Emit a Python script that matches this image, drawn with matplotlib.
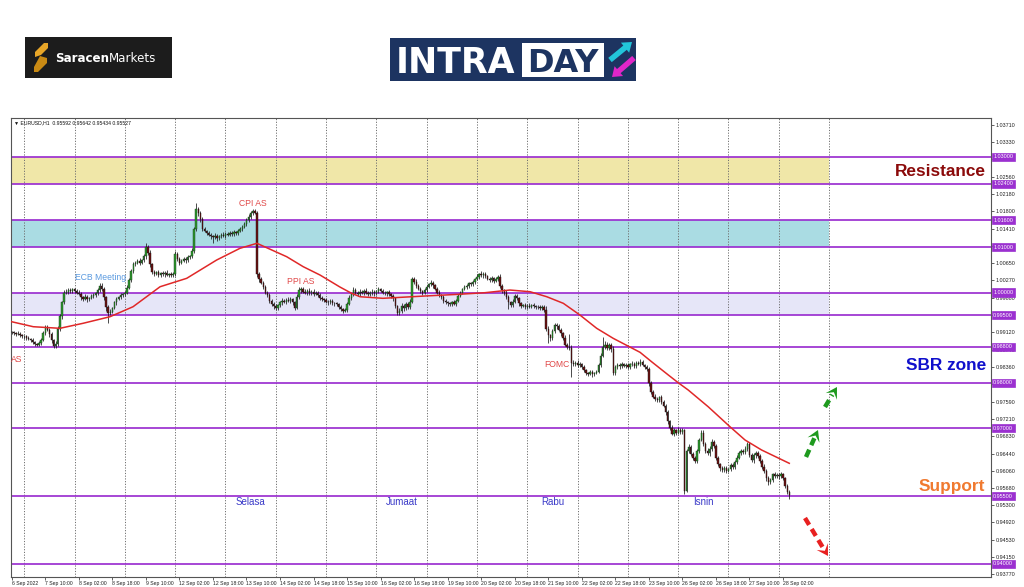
import matplotlib
matplotlib.use("Agg")
import matplotlib.pyplot as plt
from matplotlib.patches import Rectangle, Polygon, FancyArrow
from matplotlib.transforms import blended_transform_factory
import numpy as np

# ---------------- data (EURUSD H1, prices in pips above 0.9500) ----------------
BASE = 0.9500
PIP = 0.0001
first_open = 413
close_pips = [
    412, 410, 408, 409, 405, 403, 404, 400, 397, 395,
    390, 386, 385, 388, 396, 410, 424, 418, 408, 394,
    381, 386, 420, 448, 478, 500, 502, 506, 503, 507,
    504, 500, 497, 489, 486, 490, 485, 488, 492, 494,
    498, 505, 515, 508, 490, 468, 455, 458, 466, 478,
    486, 490, 494, 497, 500, 510, 528, 548, 562, 566,
    570, 565, 572, 580, 600, 588, 562, 546, 541, 545,
    538, 543, 540, 544, 539, 541, 538, 542, 585, 575,
    566, 570, 575, 571, 578, 580, 592, 640, 685, 676,
    662, 641, 636, 632, 628, 625, 622, 626, 620, 624,
    628, 625, 630, 628, 632, 630, 634, 631, 636, 640,
    645, 652, 660, 668, 675, 680, 676, 540, 530, 522,
    512, 500, 495, 482, 475, 470, 466, 472, 478, 482,
    480, 484, 481, 485, 478, 466, 490, 505, 508, 502,
    500, 504, 498, 502, 497, 500, 495, 488, 485, 483,
    480, 478, 481, 477, 476, 474, 468, 463, 460, 462,
    475, 488, 496, 505, 500, 497, 502, 499, 504, 500,
    496, 499, 502, 498, 503, 507, 504, 500, 498, 501,
    497, 492, 487, 470, 455, 460, 470, 465, 475, 468,
    480, 530, 524, 515, 508, 503, 500, 505, 512, 518,
    522, 516, 508, 500, 494, 490, 482, 478, 476, 474,
    478, 475, 482, 492, 500, 508, 512, 515, 520, 518,
    523, 530, 535, 540, 538, 542, 536, 530, 528, 532,
    526, 530, 535, 515, 505, 500, 490, 478, 472, 480,
    492, 488, 476, 470, 472, 468, 471, 469, 472, 470,
    467, 469, 466, 468, 462, 420, 405, 400, 415, 428,
    425, 418, 410, 400, 385, 380, 378, 345, 342, 345,
    340, 342, 335, 328, 322, 320, 324, 319, 322, 325,
    340, 360, 380, 385, 378, 383, 375, 322, 335, 340,
    337, 342, 338, 340, 336, 341, 343, 338, 345, 342,
    347, 340, 335, 330, 300, 280, 270, 265, 262, 268,
    258, 250, 235, 215, 200, 188, 195, 190, 197, 192,
    195, 62, 150, 158, 142, 135, 128, 150, 175, 190,
    165, 150, 145, 155, 170, 160, 135, 120, 112, 108,
    112, 106, 110, 118, 115, 125, 135, 145, 150, 148,
    155, 165, 140, 130, 140, 145, 138, 128, 115, 105,
    90, 80, 85, 98, 95, 97, 94, 98, 90, 72,
    59.2, 52.7,
]
wick_up = [
    3, 4, 2, 5, 3, 4, 2, 3, 4, 3,
    4, 3, 2, 5, 4, 6, 4, 5, 3, 4,
    3, 6, 5, 4, 3, 5, 6, 4, 5, 3,
    4, 3, 5, 4, 3, 6, 4, 3, 5, 4,
    3, 4, 6, 5, 4, 3, 4, 5, 3, 4,
    4, 3, 5, 3, 4, 6, 5, 4, 5, 3,
    4, 6, 3, 5, 9, 4, 5, 3, 4, 3,
    4, 3, 4, 3, 5, 3, 4, 3, 6, 5,
    4, 5, 3, 4, 5, 4, 6, 5, 12, 5,
    4, 5, 4, 3, 5, 4, 3, 5, 4, 3,
    4, 5, 3, 4, 3, 5, 4, 3, 4, 5,
    4, 5, 4, 6, 5, 4, 5, 4, 6, 5,
    4, 5, 3, 4, 3, 4, 5, 3, 4, 5,
    4, 3, 5, 4, 3, 4, 6, 7, 5, 4,
    5, 4, 6, 3, 5, 4, 3, 5, 4, 3,
    4, 3, 5, 4, 3, 4, 3, 4, 3, 4,
    5, 6, 4, 8, 5, 4, 5, 3, 4, 6,
    3, 4, 5, 4, 3, 5, 4, 3, 4, 3,
    4, 3, 5, 4, 3, 5, 6, 4, 5, 4,
    5, 5, 4, 5, 3, 4, 3, 5, 4, 4,
    5, 4, 3, 4, 5, 3, 4, 3, 4, 3,
    4, 5, 3, 5, 4, 3, 5, 4, 3, 4,
    4, 3, 5, 4, 8, 3, 4, 3, 5, 4,
    3, 5, 4, 5, 4, 3, 5, 4, 3, 5,
    4, 5, 3, 4, 3, 4, 3, 5, 3, 4,
    3, 4, 3, 4, 5, 8, 6, 4, 5, 5,
    4, 5, 4, 3, 5, 4, 28, 5, 6, 4,
    5, 4, 3, 5, 4, 3, 4, 5, 3, 4,
    5, 6, 22, 8, 5, 6, 5, 6, 4, 5,
    4, 5, 3, 4, 5, 4, 5, 3, 4, 3,
    5, 4, 3, 5, 6, 5, 4, 5, 3, 4,
    5, 4, 3, 5, 4, 6, 5, 4, 5, 4,
    5, 4, 5, 6, 4, 5, 4, 5, 4, 6,
    5, 4, 6, 5, 6, 4, 5, 3, 4, 5,
    4, 5, 3, 4, 5, 4, 6, 5, 4, 5,
    6, 5, 4, 5, 6, 4, 5, 4, 3, 5,
    4, 5, 6, 4, 5, 3, 4, 5, 4, 3,
    4, 5,
]
wick_dn = [
    4, 3, 5, 3, 4, 3, 5, 4, 3, 4,
    3, 5, 4, 3, 4, 3, 5, 4, 6, 5,
    4, 3, 5, 4, 6, 3, 4, 5, 4, 3,
    5, 4, 3, 5, 4, 3, 5, 4, 3, 4,
    4, 3, 4, 5, 6, 8, 23, 5, 4, 3,
    5, 3, 4, 3, 5, 4, 3, 5, 4, 3,
    4, 5, 3, 4, 5, 4, 6, 5, 4, 3,
    3, 4, 3, 5, 3, 4, 3, 4, 5, 6,
    5, 4, 3, 5, 4, 3, 4, 5, 3, 6,
    5, 4, 3, 5, 4, 6, 12, 4, 5, 3,
    4, 3, 5, 4, 3, 4, 5, 3, 4, 3,
    4, 3, 4, 3, 5, 4, 3, 5, 6, 4,
    5, 4, 6, 5, 4, 6, 5, 4, 3, 5,
    4, 5, 3, 4, 6, 4, 3, 4, 5, 4,
    4, 5, 3, 4, 5, 3, 4, 5, 4, 3,
    4, 5, 3, 4, 5, 4, 5, 4, 6, 4,
    4, 3, 5, 4, 3, 4, 5, 3, 4, 3,
    4, 3, 4, 5, 3, 4, 3, 4, 3, 5,
    4, 5, 6, 5, 5, 4, 6, 5, 4, 5,
    4, 3, 5, 4, 3, 4, 5, 3, 4, 3,
    4, 5, 3, 4, 5, 4, 6, 4, 5, 3,
    4, 3, 5, 4, 3, 4, 3, 5, 4, 3,
    3, 4, 3, 4, 3, 5, 4, 3, 5, 4,
    4, 3, 5, 4, 5, 6, 4, 14, 5, 4,
    4, 5, 6, 4, 3, 5, 4, 3, 4, 5,
    4, 3, 5, 4, 5, 6, 17, 8, 5, 4,
    5, 4, 6, 5, 4, 5, 6, 31, 5, 4,
    4, 5, 4, 3, 5, 4, 3, 5, 4, 3,
    4, 5, 3, 4, 5, 4, 6, 4, 5, 4,
    5, 4, 3, 4, 5, 4, 3, 5, 4, 3,
    4, 3, 5, 4, 6, 5, 4, 5, 4, 3,
    5, 4, 6, 5, 4, 3, 5, 4, 3, 4,
    5, 7, 4, 5, 4, 6, 5, 4, 5, 4,
    4, 5, 4, 6, 5, 4, 5, 4, 6, 5,
    4, 5, 3, 4, 5, 6, 4, 3, 5, 4,
    4, 5, 3, 4, 6, 5, 4, 6, 5, 4,
    6, 5, 4, 3, 5, 4, 6, 3, 4, 5,
    4, 9.3,
]

# red moving average (bar index, price)
ma_bars = [0, 10.3, 23, 34, 46.9, 57.9, 70.8, 83.5, 97.8, 108.9, 117, 131.2,
           139.1, 147.1, 156.6, 162.2, 166.2, 177.1, 197.2, 213.1, 225.8,
           237.7, 247.3, 255.3, 263.2, 271.1, 279.1, 287, 299.8, 305.3,
           313.3, 318, 322.8, 332.3, 342.7, 349.9, 357.8, 371]
ma_vals = [0.99354, 0.99244, 0.99209, 0.99319, 0.99465, 0.99686, 1.00128,
           1.00314, 1.00719, 1.00977, 1.01088, 1.00792, 1.00571, 1.00387,
           1.00122, 0.99982, 0.99907, 0.99872, 0.99923, 0.99960, 0.99996,
           1.00055, 1.00018, 0.99907, 0.99761, 0.99503, 0.99209, 0.98987,
           0.98678, 0.98470, 0.98176, 0.98006, 0.97844, 0.97475, 0.97033,
           0.96739, 0.96518, 0.96224]

levels = [1.0300, 1.0240, 1.0160, 1.0100, 1.0000, 0.9950, 0.9880,
          0.9800, 0.9700, 0.9550, 0.9400]
zone_lo = [1.0240, 1.0100, 0.9950]
zone_hi = [1.0300, 1.0160, 1.0000]
zone_end_bar = 390

yticks = [1.03710, 1.03330, 1.02950, 1.02560, 1.02180, 1.01800, 1.01410,
          1.01030, 1.00650, 1.00270, 0.99880, 0.99500, 0.99120, 0.98740,
          0.98360, 0.97980, 0.97590, 0.97210, 0.96830, 0.96440, 0.96060,
          0.95680, 0.95300, 0.94920, 0.94530, 0.94150, 0.93770]
# scale labels that sit fully under a level price box in the reference
hidden_ticks = [1.01030, 0.99500, 0.97980]
xtick_labels = ["6 Sep 2022", "7 Sep 10:00", "8 Sep 02:00", "8 Sep 18:00",
                "9 Sep 10:00", "12 Sep 02:00", "12 Sep 18:00", "13 Sep 10:00",
                "14 Sep 02:00", "14 Sep 18:00", "15 Sep 10:00", "16 Sep 02:00",
                "16 Sep 18:00", "19 Sep 10:00", "20 Sep 02:00", "20 Sep 18:00",
                "21 Sep 10:00", "22 Sep 02:00", "22 Sep 18:00", "23 Sep 10:00",
                "26 Sep 02:00", "26 Sep 18:00", "27 Sep 10:00", "28 Sep 02:00"]
xtick_bars = [16 * k for k in range(len(xtick_labels))]
day_sep_bars = [6 + 24 * k for k in range(17)]
header = "\u25BC EURUSD,H1  0.95592 0.95642 0.95434 0.95527"

# ---------------- figure ----------------
W, H, DPI = 1024, 587, 100
fig = plt.figure(figsize=(W / DPI, H / DPI), dpi=DPI)
fig.patch.set_facecolor("white")

L_, R_, T_, B_ = 11, 990.7, 118.3, 576.7
ax = fig.add_axes([L_ / W, 1 - B_ / H, (R_ - L_) / W, (B_ - T_) / H])
ax.set_xlim(-0.33, 467.1)
ax.set_ylim(0.93717, 1.03852)

PURPLE = "#9B30D0"
TXTFONT = ["Liberation Sans", "DejaVu Sans"]

# zones
zone_cols = ["#F0E7A8", "#AADCE3", "#E6E6F8"]
for lo, hi, col in zip(zone_lo, zone_hi, zone_cols):
    ax.add_patch(Rectangle((-0.33, lo), zone_end_bar + 0.33, hi - lo,
                           facecolor=col, edgecolor="none", zorder=1))

# day separators
ax.vlines(day_sep_bars, 0.93717, 1.03852, colors="#6f6f6f", lw=0.7,
          linestyles=(0, (1.2, 1.6)), zorder=1.5)

# level lines
for lv in levels:
    ax.axhline(lv, color=PURPLE, lw=1.25, zorder=2)

# candles
C = BASE + np.array(close_pips, dtype=float) * PIP
O = np.concatenate([[BASE + first_open * PIP], C[:-1]])
Hh = np.maximum(O, C) + np.array(wick_up, dtype=float) * PIP
Ll = np.minimum(O, C) - np.array(wick_dn, dtype=float) * PIP
idx = np.arange(len(C))
up = C >= O
ax.vlines(idx, Ll, Hh, colors="#1a1a1a", lw=0.55, zorder=3)
body = np.maximum(np.abs(C - O), 0.00004)
ax.bar(idx[up], body[up], bottom=np.minimum(O, C)[up], width=0.65,
       color="#2F9A2F", edgecolor="#123312", lw=0.3, zorder=4)
ax.bar(idx[~up], body[~up], bottom=np.minimum(O, C)[~up], width=0.65,
       color="#6E1212", edgecolor="#111111", lw=0.3, zorder=4)

# moving average
ax.plot(ma_bars, ma_vals, color="#E02828", lw=1.1, zorder=5)

# axes styling
for s in ax.spines.values():
    s.set_color("#555555")
    s.set_linewidth(0.8)
ax.yaxis.tick_right()
ax.set_yticks(yticks)
ax.set_yticklabels(["" if v in hidden_ticks else f"{v:.5f}" for v in yticks],
                   fontfamily=TXTFONT)
ax.tick_params(axis="y", labelsize=3.9, length=2, pad=1.5, colors="#222222",
               width=0.5)
ax.set_xticks(xtick_bars)
ax.set_xticklabels(xtick_labels, ha="left", fontfamily=TXTFONT)
ax.tick_params(axis="x", labelsize=3.7, length=2, pad=1.2, colors="#222222",
               width=0.5)

# level price boxes on the right scale
trans = blended_transform_factory(ax.transAxes, ax.transData)
for lv in levels:
    ax.text(1.0025, lv, f"{lv:.5f}", transform=trans, fontsize=3.9,
            fontfamily=TXTFONT, color="white", va="center", ha="left",
            bbox=dict(boxstyle="square,pad=0.3", fc=PURPLE, ec=PURPLE, lw=0.5),
            zorder=10, clip_on=False)

# ---------------- overlay in pixel coordinates ----------------
ov = fig.add_axes([0, 0, 1, 1], zorder=10)
ov.set_xlim(0, W)
ov.set_ylim(H, 0)
ov.axis("off")
ov.patch.set_visible(False)

ov.text(13.5, 123, header, fontsize=3.7, fontfamily=TXTFONT, color="#111111",
        va="center", ha="left")

# event labels
ov.text(75, 278, "ECB Meeting", fontsize=6.2, fontfamily=TXTFONT,
        color="#5A9AE0", va="center", ha="left")
for txt, x, y in [("CPI AS", 239, 203), ("PPI AS", 287, 282),
                  ("FOMC", 544, 364.5), ("AS", 10.5, 360)]:
    ov.text(x, y, txt, fontsize=6.2, fontfamily=TXTFONT, color="#E04848",
            va="center", ha="left")

# day labels
for txt, x in zip(["Selasa", "Jumaat", "Rabu", "Isnin"], [236, 386, 541, 693]):
    ov.text(x, 502, txt, fontsize=7, fontfamily=TXTFONT, color="#3A3AC8",
            va="center", ha="left")

# zone titles
ov.text(986, 171, "Resistance", fontsize=12.4, fontweight="bold",
        fontfamily=TXTFONT, color="#8B0A0A", va="center", ha="right")
ov.text(986, 366, "SBR zone", fontsize=12.4, fontweight="bold",
        fontfamily=TXTFONT, color="#1010CC", va="center", ha="right")
ov.text(985, 486, "Support", fontsize=12.4, fontweight="bold",
        fontfamily=TXTFONT, color="#F07A30", va="center", ha="right")


def dashed_arrow(x0, y0, x1, y1, color):
    d = np.array([x1 - x0, y1 - y0], dtype=float)
    u = d / np.hypot(*d)
    n = np.array([-u[1], u[0]])
    tip = np.array([x1, y1], dtype=float)
    hl, hw = 11.0, 6.5
    base = tip - u * hl
    shaft_end = base + u * 2
    ov.plot([x0, shaft_end[0]], [y0, shaft_end[1]], color=color, lw=3.2,
            ls=(0, (1.8, 1.1)), solid_capstyle="butt")
    notch = tip - u * hl * 0.55
    ov.add_patch(Polygon([tip, base + n * hw, notch, base - n * hw],
                         closed=True, fc=color, ec="none"))


dashed_arrow(806, 457, 818, 430, "#1E9A1E")
dashed_arrow(825, 407, 837, 387, "#1E9A1E")
dashed_arrow(805, 518, 828, 556, "#E82020")

# ---- logos ----
ov.add_patch(Rectangle((25, 37), 147, 41, fc="#1c1c1c", ec="none"))
gold = "#E8A628"
ov.add_patch(Polygon([(35, 52), (44, 43), (48, 43), (48, 48), (41, 55), (35, 57)],
                     closed=True, fc=gold, ec="none"))
ov.add_patch(Polygon([(40, 56), (47, 58), (47, 63), (38, 72), (34, 72), (34, 67)],
                     closed=True, fc="#C98A14", ec="none"))
ov.text(55, 58, "Saracen", fontsize=8.6, fontweight="bold", color="white",
        fontfamily="DejaVu Sans", va="center", ha="left")
ov.text(109, 58, "Markets", fontsize=8.6, color="white",
        fontfamily="DejaVu Sans", va="center", ha="left")

NAVY = "#1D3461"
ov.add_patch(Rectangle((390, 38), 246, 43, fc=NAVY, ec="none"))
ov.text(396, 73, "INTRA", fontsize=25, fontweight="bold", color="white",
        fontfamily="DejaVu Sans", va="baseline", ha="left")
ov.add_patch(Rectangle((522, 43), 82, 34, fc="white", ec="none"))
ov.text(563, 72, "DAY", fontsize=23, fontweight="bold", color=NAVY,
        fontfamily="DejaVu Sans", va="baseline", ha="center")
ov.add_patch(FancyArrow(610, 60, 22, -18, width=5.5, head_width=13,
                        head_length=9, length_includes_head=True,
                        fc="#22C6DA", ec="none"))
ov.add_patch(FancyArrow(634, 58, -22, 19, width=5.5, head_width=13,
                        head_length=9, length_includes_head=True,
                        fc="#E026C8", ec="none"))

fig.savefig("out.png", dpi=DPI, facecolor="white")
